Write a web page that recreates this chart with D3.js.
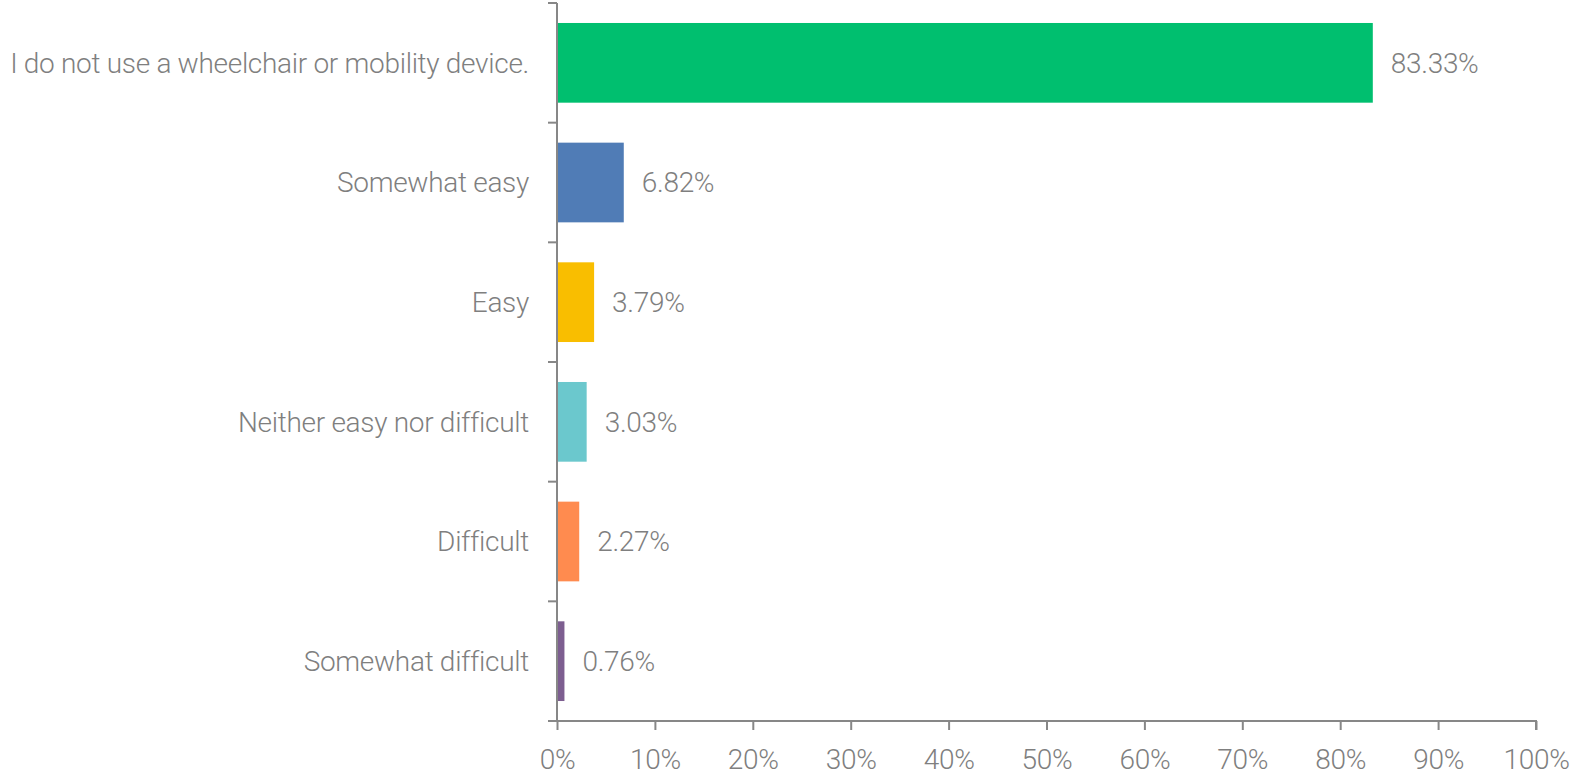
<!DOCTYPE html>
<html>
<head>
<meta charset="utf-8">
<script src="https://cdn.jsdelivr.net/npm/d3@7"></script>
<style>
  html, body { margin: 0; padding: 0; background: #fff; }
  svg text { font-family: Roboto, "Open Sans", sans-serif; font-weight: 300; fill: #7f7f7f; letter-spacing: -0.3px; }
</style>
</head>
<body>
<svg id="chart" width="1571" height="776"></svg>
<script>
// Survey answers, top to bottom
const categories = [
  "I do not use a wheelchair or mobility device.",
  "Somewhat easy",
  "Easy",
  "Neither easy nor difficult",
  "Difficult",
  "Somewhat difficult"
];
const values = [83.33, 6.82, 3.79, 3.03, 2.27, 0.76];
const barColors = ["#00bf6f", "#507cb6", "#f9be00", "#6bc8cd", "#ff8b4f", "#7d5e90"];
const xTicks = [0, 10, 20, 30, 40, 50, 60, 70, 80, 90, 100];

const svg = d3.select("#chart");
const margin = { left: 557, right: 35, top: 3, bottom: 55 };
const W = 1571, H = 776;
const fontSize = 28;

const x = d3.scaleLinear().domain([0, 100]).range([margin.left, W - margin.right]);
const y = d3.scaleBand().domain(categories).range([margin.top, H - margin.bottom])
  .paddingInner(0.334).paddingOuter(0.167);

const axisColor = "#878787";

// Bars
svg.append("g").selectAll("rect").data(values).join("rect")
  .attr("x", x(0))
  .attr("y", (d, i) => y(categories[i]))
  .attr("width", d => x(d) - x(0))
  .attr("height", y.bandwidth())
  .attr("fill", (d, i) => barColors[i]);

// Value labels
svg.append("g").selectAll("text").data(values).join("text")
  .attr("x", d => x(d) + 18)
  .attr("y", (d, i) => y(categories[i]) + y.bandwidth() / 2)
  .attr("dy", "0.35em")
  .attr("font-size", fontSize)
  .text(d => d.toFixed(2) + "%");

// Category axis: band boundaries as ticks
const yAxis = svg.append("g");
const yTop = margin.top, yBot = H - margin.bottom;
yAxis.append("line")
  .attr("x1", x(0)).attr("x2", x(0)).attr("y1", yTop).attr("y2", yBot)
  .attr("stroke", axisColor).attr("stroke-width", 2);
const bounds = d3.range(categories.length + 1).map(i => yTop + i * (yBot - yTop) / categories.length);
yAxis.selectAll("line.tk").data(bounds).join("line").attr("class", "tk")
  .attr("x1", x(0) - 9).attr("x2", x(0)).attr("y1", d => d).attr("y2", d => d)
  .attr("stroke", axisColor).attr("stroke-width", 2);
yAxis.selectAll("text").data(categories).join("text")
  .attr("x", x(0) - 28)
  .attr("y", d => y(d) + y.bandwidth() / 2)
  .attr("dy", "0.35em")
  .attr("text-anchor", "end")
  .attr("font-size", fontSize)
  .text(d => d);

// Value axis
const xAxis = d3.axisBottom(x).tickValues(xTicks).tickFormat(d => d + "%").tickSize(9).tickPadding(19);
const gx = svg.append("g").attr("transform", `translate(0,${yBot})`).call(xAxis);
gx.select(".domain").attr("stroke", axisColor).attr("stroke-width", 2)
  .attr("d", `M${x(0)},0H${x(100)}V9`);
gx.selectAll(".tick line").attr("stroke", axisColor).attr("stroke-width", 2);
gx.selectAll(".tick text").attr("font-size", fontSize).attr("font-family", null).attr("fill", null);
</script>
</body>
</html>
